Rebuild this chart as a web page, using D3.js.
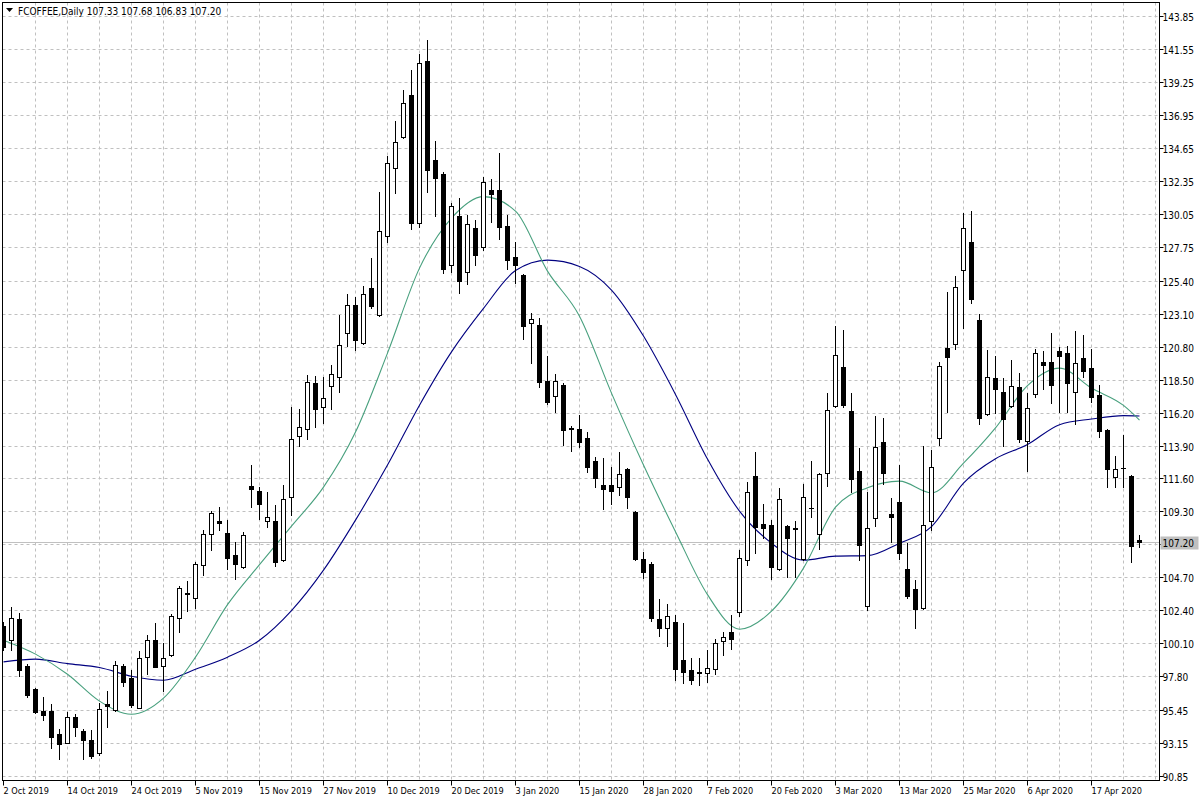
<!DOCTYPE html>
<html><head><meta charset="utf-8">
<script src="https://cdn.jsdelivr.net/npm/d3@7"></script>
<style>
body{margin:0;background:#fff;}
text{font-family:"DejaVu Sans Condensed","DejaVu Sans",sans-serif;font-size:10px;fill:#000;}
text.date{font-size:9.1px;}
</style>
</head><body>
<svg id="chart" width="1200" height="800"></svg>
<script>
const symbolTitle = "FCOFFEE,Daily";
const lastBar = [107.33, 107.68, 106.83, 107.20];
const dateLabels = ["2 Oct 2019","14 Oct 2019","24 Oct 2019","5 Nov 2019","15 Nov 2019","27 Nov 2019","10 Dec 2019","20 Dec 2019","3 Jan 2020","15 Jan 2020","28 Jan 2020","7 Feb 2020","20 Feb 2020","3 Mar 2020","13 Mar 2020","25 Mar 2020","6 Apr 2020","17 Apr 2020"];
const dateLabelBars = [0,8,16,24,32,40,48,56,64,72,80,88,96,104,112,120,128,136];
const priceTicks = ["143.85","141.55","139.25","136.95","134.65","132.35","130.05","127.75","125.40","123.10","120.80","118.50","116.20","113.90","111.60","109.30","107.00","104.70","102.40","100.10","97.80","95.45","93.15","90.85"];

const opens = [101.33,100.35,101.82,98.54,96.93,95.40,95.40,93.84,93.19,94.98,94.00,93.38,92.45,95.87,95.47,98.54,97.72,95.63,99.19,100.35,98.54,99.31,101.87,103.66,103.33,105.59,107.75,108.70,107.80,106.33,105.47,111.10,110.75,108.68,108.66,105.98,110.31,114.61,115.06,118.27,116.59,118.08,118.69,121.80,123.73,121.06,124.94,123.02,128.56,133.27,135.48,138.39,129.47,140.76,133.85,132.87,126.52,129.96,126.05,129.08,127.80,131.79,131.79,129.24,127.06,125.82,122.45,122.34,118.45,117.38,118.15,115.16,115.08,114.47,112.85,111.21,111.17,111.01,112.29,109.28,106.05,105.66,101.80,101.21,101.59,98.94,98.29,98.10,98.07,98.36,100.30,100.89,102.33,105.98,111.80,108.49,108.42,105.31,108.31,108.18,106.03,109.58,107.73,112.03,116.71,119.38,116.33,112.15,102.72,108.85,114.15,109.15,109.98,105.31,103.89,102.57,108.66,114.43,120.71,120.99,126.17,128.11,122.68,116.13,118.62,117.64,116.68,117.99,114.26,117.50,119.73,119.73,120.52,120.36,117.64,120.01,119.31,117.45,115.01,111.75,112.34,111.80,107.33];
const highs = [101.61,102.68,102.24,98.68,97.00,96.40,95.89,94.19,95.35,95.20,94.19,94.12,95.94,96.79,98.91,98.68,98.26,99.61,100.70,101.52,100.14,102.17,104.12,104.49,105.82,108.03,109.38,109.66,108.73,107.21,107.91,112.57,111.05,110.70,109.78,111.17,116.59,116.45,118.85,118.78,118.69,119.54,123.03,124.48,124.31,125.06,126.99,131.59,134.13,136.59,138.74,140.13,141.25,142.22,135.18,133.01,130.87,131.17,130.02,129.66,132.69,132.50,134.31,130.02,128.13,125.90,123.15,122.84,120.19,118.92,118.29,115.29,116.09,114.89,113.10,113.03,112.45,113.45,112.38,109.38,106.51,105.80,103.26,102.91,102.09,101.52,99.13,99.08,99.66,100.47,100.93,102.09,106.64,111.36,113.49,109.84,108.73,110.94,108.38,108.66,111.24,112.85,112.03,117.57,122.27,121.99,117.57,113.73,110.70,115.98,115.87,110.24,112.57,107.10,104.57,113.91,113.61,119.77,124.61,125.75,130.13,130.29,123.08,120.59,120.17,118.62,119.89,118.97,117.61,120.64,120.54,121.80,120.82,120.87,121.92,121.64,120.66,118.15,115.12,113.19,114.66,111.85,107.68];
const lows = [99.66,99.66,97.83,96.40,95.24,94.77,92.84,92.03,93.15,93.70,92.03,92.14,92.33,94.32,95.40,97.16,95.66,95.59,97.98,98.47,96.81,99.24,100.89,102.40,102.57,104.89,106.63,108.07,105.29,104.60,105.38,109.61,108.82,108.26,105.54,105.86,109.08,113.88,114.40,115.24,115.48,116.45,117.68,120.87,120.59,120.99,123.54,122.95,128.14,131.57,135.37,129.01,129.19,131.64,129.96,125.94,126.05,124.59,125.22,126.52,127.55,129.54,128.33,126.22,125.24,121.34,119.66,118.03,116.80,116.29,113.96,113.52,113.84,112.10,111.04,109.50,109.84,110.47,109.59,105.94,104.66,101.68,100.65,99.94,97.61,97.37,97.33,97.21,97.44,97.96,99.31,99.77,102.03,105.62,106.47,107.45,104.60,105.24,104.73,104.77,105.96,108.96,106.68,111.12,116.60,116.63,110.70,105.98,102.45,108.31,111.24,107.17,106.05,103.33,101.17,102.51,108.03,113.96,116.29,120.64,122.11,123.85,115.43,116.08,116.17,113.89,116.61,114.19,112.17,117.33,117.85,116.87,116.29,116.29,115.43,118.69,116.98,114.54,111.01,111.05,111.05,105.82,106.83];
const closes = [99.89,101.87,98.30,96.52,95.35,95.12,93.61,93.10,94.98,94.32,93.38,92.28,95.54,95.77,98.61,97.44,95.82,99.08,100.40,98.49,99.08,102.03,103.96,103.58,105.66,107.73,109.20,108.56,106.12,105.64,107.66,110.87,109.82,108.92,105.78,110.17,114.36,115.20,118.38,116.45,117.22,118.90,120.94,123.73,121.29,124.48,123.66,128.89,133.62,135.08,137.81,129.47,140.60,133.15,132.57,126.24,130.64,125.43,129.39,127.22,132.29,131.45,129.15,126.87,126.52,122.29,122.73,118.38,116.98,118.43,115.01,115.10,114.19,112.45,111.68,110.87,110.75,111.94,110.31,106.05,105.12,101.91,101.17,102.03,98.33,98.13,97.61,98.04,98.40,100.19,100.58,100.47,106.12,110.71,108.26,108.21,105.43,110.17,107.45,108.11,110.31,109.58,111.94,116.41,120.24,116.75,111.61,106.98,108.21,113.84,112.03,108.92,106.46,103.42,102.50,108.42,112.45,119.50,120.08,124.96,129.08,124.13,115.83,118.69,117.85,115.78,118.08,114.36,116.52,120.36,119.54,118.15,120.19,118.31,119.66,119.15,117.33,114.96,112.27,112.27,112.34,106.93,107.20];

const maBars = [0,4,8,12,16,20,24,28,32,36,40,44,48,52,56,60,64,68,72,76,80,84,88,92,96,100,104,108,112,116,120,124,128,132,136,140,142];
const fastMA = [100.35,99.38,97.98,96.10,95.19,96.31,99.17,102.83,105.62,108.31,111.03,114.87,120.38,126.31,129.80,131.30,130.29,126.10,122.96,117.59,112.57,107.92,103.53,101.12,102.38,105.38,109.63,110.99,111.45,110.63,112.70,115.16,118.11,119.33,117.94,116.73,115.71];
const slowMA = [98.84,99.03,98.72,98.45,97.84,97.56,98.33,99.17,100.35,102.42,105.24,108.73,112.57,116.75,120.47,123.50,126.14,126.87,126.43,124.78,121.57,117.50,112.99,109.36,107.12,105.94,106.22,106.25,107.12,108.28,111.31,113.01,114.00,115.39,115.78,116.02,115.99];

const svg = d3.select("#chart");
const L = 2.5, R = 1159.5, T = 2.5, B = 780.5;
const x = d3.scaleLinear().domain([0, 142]).range([3.5, 1139.5]);
const y = d3.scaleLinear().domain([90.85, 143.85]).range([776.4, 16.7]);
const crisp = v => Math.round(v - 0.5) + 0.5;

svg.append("rect").attr("width",1200).attr("height",800).attr("fill","#fff");
svg.append("clipPath").attr("id","clip").append("rect")
  .attr("x",L).attr("y",T).attr("width",R-L).attr("height",B-T);

const grid = svg.append("g").attr("stroke","#c0c0c0").attr("stroke-dasharray","3,3").attr("stroke-width",1);
d3.range(4, 145, 4).forEach(i => {
  const gx = crisp(x(i));
  if (gx < R) grid.append("line").attr("x1",gx).attr("x2",gx).attr("y1",T).attr("y2",B);
});
priceTicks.forEach(t => {
  const gy = crisp(y(+t));
  grid.append("line").attr("x1",L).attr("x2",R).attr("y1",gy).attr("y2",gy);
});

const plot = svg.append("g").attr("clip-path","url(#clip)");
plot.append("line").attr("x1",L).attr("x2",R)
  .attr("y1",crisp(y(lastBar[3]))).attr("y2",crisp(y(lastBar[3])))
  .attr("stroke","#c0c0c0").attr("stroke-width",1);

const line = d3.line().x((d,k)=>x(maBars[k])).y(d=>y(d)).curve(d3.curveMonotoneX);
plot.append("path").attr("d",line(slowMA)).attr("fill","none").attr("stroke","#000080").attr("stroke-width",1.1);
plot.append("path").attr("d",line(fastMA)).attr("fill","none").attr("stroke","#48a07e").attr("stroke-width",1.1);

const candles = plot.append("g");
opens.forEach((o,i) => {
  const c = closes[i], h = highs[i], l = lows[i];
  const cx = crisp(x(i));
  candles.append("line").attr("x1",cx).attr("x2",cx)
    .attr("y1",Math.round(y(h))).attr("y2",Math.round(y(l))+1)
    .attr("stroke","#000").attr("stroke-width",1);
  const yt = Math.round(y(Math.max(o,c))), yb = Math.round(y(Math.min(o,c)));
  if (yb - yt < 1) {
    candles.append("line").attr("x1",cx-2.5).attr("x2",cx+2.5)
      .attr("y1",yt+0.5).attr("y2",yt+0.5).attr("stroke","#000").attr("stroke-width",1);
  } else {
    candles.append("rect").attr("x",cx-2).attr("y",yt+0.5).attr("width",4).attr("height",yb-yt)
      .attr("fill", c >= o ? "#fff" : "#000").attr("stroke","#000").attr("stroke-width",1);
  }
});

svg.append("rect").attr("x",L).attr("y",T).attr("width",R-L).attr("height",B-T)
  .attr("fill","none").attr("stroke","#000").attr("stroke-width",1);

const pa = svg.append("g");
priceTicks.forEach(t => {
  const gy = crisp(y(+t));
  pa.append("line").attr("x1",R).attr("x2",R+4).attr("y1",gy).attr("y2",gy).attr("stroke","#000");
  pa.append("text").attr("x",R+3).attr("y",gy+4).text(t);
});
const cy = crisp(y(lastBar[3]));
pa.append("rect").attr("x",R+1).attr("y",cy-6).attr("width",38).attr("height",13).attr("fill","#c0c0c0");
pa.append("text").attr("x",R+3).attr("y",cy+4).text(lastBar[3].toFixed(2));

const da = svg.append("g");
dateLabelBars.forEach((b,k) => {
  const tx = crisp(x(b));
  da.append("line").attr("x1",tx).attr("x2",tx).attr("y1",B).attr("y2",B+5).attr("stroke","#000");
  da.append("text").attr("class","date").attr("x",tx).attr("y",794).text(dateLabels[k]);
});

svg.append("path").attr("d","M6,8 L13,8 L9.5,12 Z").attr("fill","#000");
svg.append("text").attr("x",18).attr("y",15)
  .text(symbolTitle + "  " + lastBar.map(v=>v.toFixed(2)).join(" "));
</script>
</body></html>
